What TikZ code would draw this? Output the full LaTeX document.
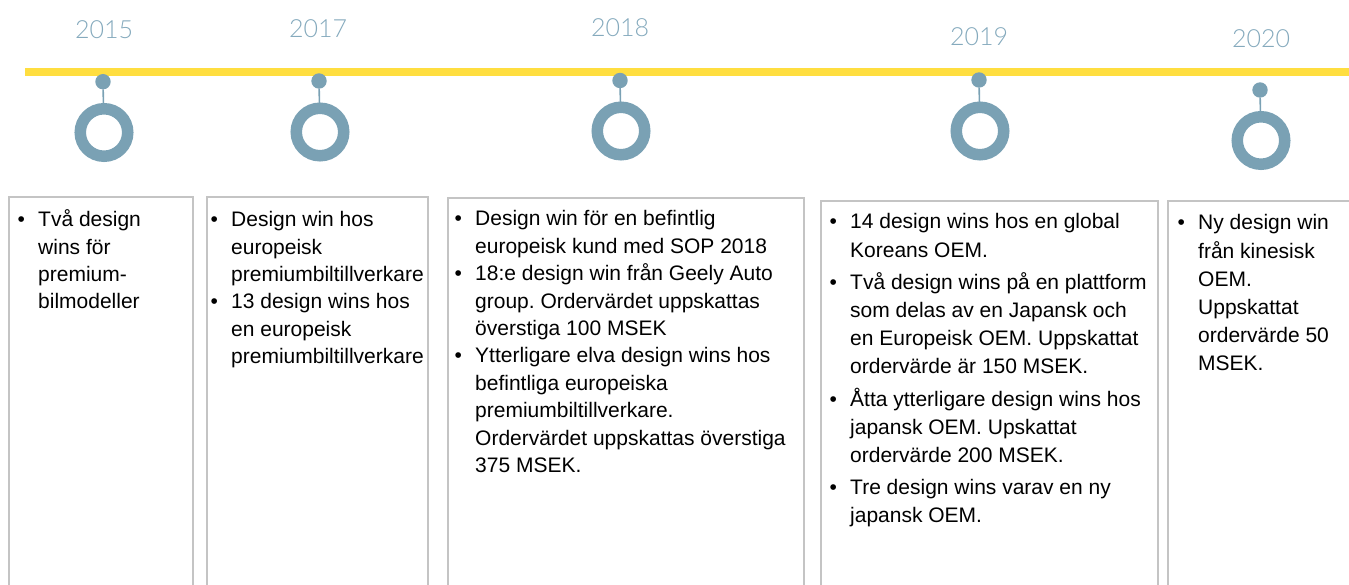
\documentclass[tikz,border=0pt]{standalone}
\usepackage{fontspec}
\setmainfont{Liberation Sans}
\newfontfamily\yearfont{Lato Light}
\frenchspacing
\definecolor{ringblue}{HTML}{7AA1B4}
\definecolor{yearblue}{HTML}{85AABD}
\definecolor{tlyellow}{HTML}{FFDE40}
\definecolor{boxgray}{HTML}{C4C4C4}
\newcommand\bl{\makebox[20.5pt][l]{\textbullet}}
\newcommand\ind{\hspace*{20.5pt}}
\newcommand\boxtext[2]{\parbox[t]{400pt}{\fontsize{21}{#1}\selectfont\frenchspacing\raggedright #2}}
\tikzset{
  ring/.style={circle, draw=ringblue, line width=11.5pt, minimum size=47.5pt, inner sep=0pt, outer sep=0pt},
  dotnode/.style={circle, fill=ringblue, minimum size=15.4pt, inner sep=0pt, outer sep=0pt},
  stem/.style={draw=ringblue, line width=1.6pt},
  yearlab/.style={font=\yearfont\fontsize{25}{30}\selectfont, text=yearblue, inner sep=0pt},
  tl/.style={draw=tlyellow, line width=8pt},
  boxline/.style={draw=boxgray, line width=1.8pt},
  txt/.style={inner sep=0pt, anchor=base west, text=black}
}
\begin{document}
\begin{tikzpicture}[x=1pt,y=-1pt]
\useasboundingbox (0,0) rectangle (1349,585);
\clip (0,0) rectangle (1349,585);
% timeline
\coordinate (tlstart) at (25,72);
\coordinate (tlend) at (1349,72);
\draw[tl] (tlstart) -- (tlend);
% years
\node[yearlab] (y1) at (104,30) {2015};
\node[yearlab] (y2) at (318,28.5) {2017};
\node[yearlab] (y3) at (620,28) {2018};
\node[yearlab] (y4) at (979,37) {2019};
\node[yearlab] (y5) at (1261,39) {2020};
% markers
\node[dotnode] (d1) at (103,81.7) {};
\node[ring] (r1) at (104,132.5) {};
\node[dotnode] (d2) at (319,81) {};
\node[ring] (r2) at (320,132) {};
\node[dotnode] (d3) at (620,80.5) {};
\node[ring] (r3) at (621,131) {};
\node[dotnode] (d4) at (979,80) {};
\node[ring] (r4) at (980,131) {};
\node[dotnode] (d5) at (1260,90) {};
\node[ring] (r5) at (1261,140.5) {};
\foreach \i in {1,...,5} {\draw[stem] (d\i) -- (r\i);}
% boxes
\draw[boxline] (9,197) rectangle (193,620);
\draw[boxline] (207,197) rectangle (428,620);
\draw[boxline] (448,198) rectangle (804,620);
\draw[boxline] (821,201) rectangle (1158,620);
\draw[boxline] (1168,201) rectangle (1360,620);
% texts
\node[txt] (t1) at (17.5,227) {\boxtext{27.3}{\bl Två design\\ \ind wins för\\ \ind premium-\\ \ind bilmodeller}};
\node[txt] (t2) at (210.5,227) {\boxtext{27.3}{\bl Design win hos\\ \ind europeisk\\ \ind premiumbiltillverkare\\ \bl 13 design wins hos\\ \ind en europeisk\\ \ind premiumbiltillverkare}};
\node[txt] (t3) at (454.5,226) {\boxtext{27.4}{\bl Design win för en befintlig\\ \ind europeisk kund med SOP 2018\\ \bl 18:e design win från Geely Auto\\ \ind group. Ordervärdet uppskattas\\ \ind överstiga 100 MSEK\\ \bl Ytterligare elva design wins hos\\ \ind befintliga europeiska\\ \ind premiumbiltillverkare.\\ \ind Ordervärdet uppskattas överstiga\\ \ind 375 MSEK.}};
\node[txt] (t4) at (829.5,229) {\boxtext{28.2}{\bl 14 design wins hos en global\\ \ind Koreans OEM.\\[4pt] \bl Två design wins på en plattform\\ \ind som delas av en Japansk och\\ \ind en Europeisk OEM. Uppskattat\\ \ind ordervärde är 150 MSEK.\\[4pt] \bl Åtta ytterligare design wins hos\\ \ind japansk OEM. Upskattat\\ \ind ordervärde 200 MSEK.\\[4pt] \bl Tre design wins varav en ny\\ \ind japansk OEM.}};
\node[txt] (t5) at (1177.5,230) {\boxtext{28.2}{\bl Ny design win\\ \ind från kinesisk\\ \ind OEM.\\ \ind Uppskattat\\ \ind ordervärde 50\\ \ind MSEK.}};
\end{tikzpicture}
\end{document}
